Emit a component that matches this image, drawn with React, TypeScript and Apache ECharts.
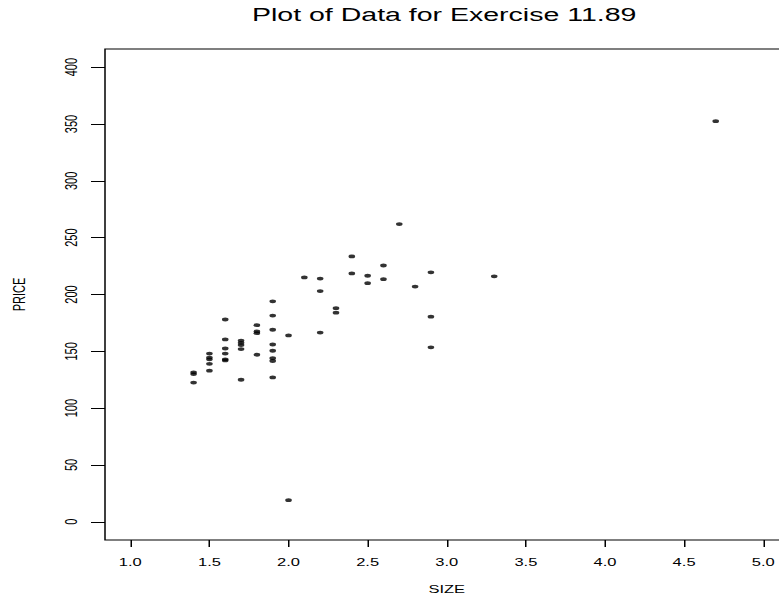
import React, { useEffect, useRef } from 'react';
import * as echarts from 'echarts';

// ---- data ----
const SIZE = [
  1.4, 1.4, 1.4,
  1.5, 1.5, 1.5, 1.5, 1.5,
  1.6, 1.6, 1.6, 1.6, 1.6, 1.6,
  1.7, 1.7, 1.7, 1.7, 1.7,
  1.8, 1.8, 1.8, 1.8,
  1.9, 1.9, 1.9, 1.9, 1.9, 1.9, 1.9, 1.9,
  2.0, 2.0,
  2.1,
  2.2, 2.2, 2.2,
  2.3, 2.3,
  2.4, 2.4,
  2.5, 2.5,
  2.6, 2.6,
  2.7,
  2.8,
  2.9, 2.9, 2.9,
  3.3,
  4.7,
];
const PRICE = [
  131.5, 130, 122.5,
  148, 144.5, 143, 139, 133,
  178, 160.5, 152.5, 148, 143, 142,
  159.5, 157.5, 155.5, 152, 125,
  173, 167.5, 166, 147,
  194, 181.5, 169, 156, 150.5, 144, 141.5, 127,
  164, 19,
  215,
  214, 203, 166.5,
  188, 184,
  233.5, 218.5,
  216.5, 210,
  225.5, 213.5,
  262,
  207,
  219.5, 180.5, 153.5,
  216,
  352.5,
];
const X_TICKS = [1.0, 1.5, 2.0, 2.5, 3.0, 3.5, 4.0, 4.5, 5.0];
const Y_TICKS = [0, 50, 100, 150, 200, 250, 300, 350, 400];
const TITLE = 'Plot of Data for Exercise 11.89';
const X_NAME = 'SIZE';
const Y_NAME = 'PRICE';

// ---- layout ----
const SX = 1.5; // horizontal stretch of the reference picture
const H = 596;
const INNER_W = 800 / SX;
const FONT = '"Liberation Sans", Arial, Helvetica, sans-serif';

export default function App() {
  const ref = useRef<HTMLDivElement>(null);

  useEffect(() => {
    if (!ref.current) return;
    const chart = echarts.init(ref.current, null, { renderer: 'svg' });
    const points = SIZE.map((s, i) => [s, PRICE[i]]);
    chart.setOption({
      animation: false,
      backgroundColor: '#ffffff',
      textStyle: { fontFamily: FONT },
      title: {
        text: TITLE,
        left: 168,
        top: 5,
        padding: 0,
        textStyle: { fontFamily: FONT, fontSize: 19, fontWeight: 'normal', color: '#000' },
      },
      grid: {
        left: 70,
        right: INNER_W - 526,
        top: 49,
        bottom: H - 540,
        outerBoundsMode: 'none',
        containLabel: false,
        show: true,
        borderColor: '#000',
        borderWidth: 1,
        backgroundColor: 'transparent',
      },
      xAxis: {
        type: 'value',
        min: 0.84,
        max: 5.16,
        name: X_NAME,
        nameLocation: 'middle',
        nameGap: 44,
        nameTextStyle: { fontFamily: FONT, fontSize: 11, color: '#000' },
        axisLine: { show: false, onZero: false },
        splitLine: { show: false },
        axisTick: {
          show: true,
          inside: false,
          length: 7,
          customValues: X_TICKS,
          lineStyle: { color: '#000', width: 1 },
        },
        axisLabel: {
          customValues: X_TICKS,
          formatter: (v: number) => v.toFixed(1),
          fontFamily: FONT,
          fontSize: 11,
          color: '#000',
          margin: 17,
        },
      },
      yAxis: {
        type: 'value',
        min: -16,
        max: 416,
        name: Y_NAME,
        nameLocation: 'middle',
        nameRotate: 90,
        nameGap: 52,
        nameTextStyle: { fontFamily: FONT, fontSize: 11, color: '#000' },
        axisLine: { show: false, onZero: false },
        splitLine: { show: false },
        axisTick: {
          show: true,
          inside: false,
          length: 14 / SX,
          customValues: Y_TICKS,
          lineStyle: { color: '#000', width: 1 },
        },
        axisLabel: {
          customValues: Y_TICKS,
          rotate: 90,
          fontFamily: FONT,
          fontSize: 11,
          color: '#000',
          margin: 17,
        },
      },
      series: [
        {
          type: 'scatter',
          data: points,
          symbol: 'path://M0,5a5,5 0 1,0 10,0a5,5 0 1,0 -10,0z',
          symbolSize: [4.4, 3.8],
          itemStyle: { color: '#000' },
          emphasis: { disabled: true },
        },
      ],
    });
    return () => chart.dispose();
  }, []);

  return (
    <div
      style={{
        position: 'absolute',
        left: 0,
        top: 0,
        width: 779,
        height: H,
        overflow: 'hidden',
        background: '#fff',
      }}
    >
      <div
        ref={ref}
        style={{
          width: INNER_W,
          height: H,
          transform: `scaleX(${SX})`,
          transformOrigin: '0 0',
        }}
      />
    </div>
  );
}
